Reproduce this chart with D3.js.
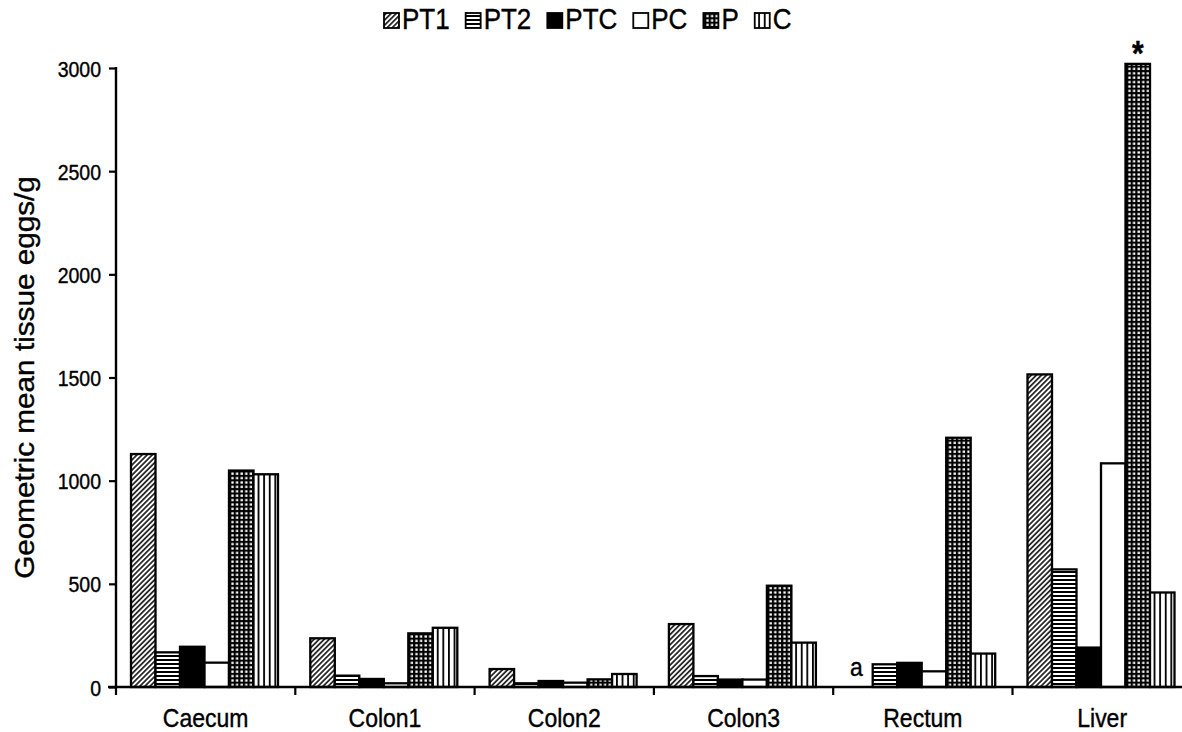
<!DOCTYPE html>
<html>
<head>
<meta charset="utf-8">
<script src="https://cdn.jsdelivr.net/npm/d3@7/dist/d3.min.js"></script>
<style>
  html, body { margin: 0; padding: 0; background: #fff; }
  svg { display: block; font-family: "Liberation Sans", Arial, sans-serif; }
  text { fill: #000; stroke: #000; stroke-width: 0.35px; }
</style>
</head>
<body>
<svg id="chart" width="1182" height="732"></svg>
<script>
// Tissue sites along the x axis
const categories = ["Caecum", "Colon1", "Colon2", "Colon3", "Rectum", "Liver"];
// Treatment groups (one bar each per site)
const seriesNames = ["PT1", "PT2", "PTC", "PC", "P", "C"];
// Geometric mean tissue eggs/g, one array per treatment group, ordered as categories
const PT1 = [1129, 236, 87, 305, 0, 1515];
const PT2 = [168, 55, 18, 53, 110, 570];
const PTC = [195, 39, 29, 36, 117, 191];
const PC  = [118, 18, 21, 36, 76, 1084];
const P   = [1049, 260, 37, 491, 1208, 3020];
const C   = [1031, 287, 63, 215, 162, 458];
const seriesValues = [PT1, PT2, PTC, PC, P, C];
// Y axis ticks
const yTicks = [0, 500, 1000, 1500, 2000, 2500, 3000];
// Annotations: "a" on Rectum/PT1, "*" on Liver/P
const notes = [
  { cat: "Rectum", series: "PT1", text: "a" },
  { cat: "Liver", series: "P", text: "*" }
];

const svg = d3.select("#chart");
const plotLeft = 116, plotTop = 68, plotBottom = 687;
const groupW = 179.3;
const stretch = 1.15; // glyphs are drawn slightly taller than wide

// Fill patterns for each treatment
const defs = svg.append("defs");
// PT1: fine diagonal hatch
const pHatch = defs.append("pattern").attr("id", "pat-PT1")
  .attr("patternUnits", "userSpaceOnUse").attr("width", 3.6).attr("height", 3.6)
  .attr("patternTransform", "rotate(45)");
pHatch.append("rect").attr("width", 3.6).attr("height", 3.6).attr("fill", "#fff");
pHatch.append("line").attr("x1", 0.9).attr("y1", 0).attr("x2", 0.9).attr("y2", 3.6)
  .attr("stroke", "#000").attr("stroke-width", 1.5);
// PT2: horizontal stripes
const pHoriz = defs.append("pattern").attr("id", "pat-PT2")
  .attr("patternUnits", "userSpaceOnUse").attr("width", 8).attr("height", 4)
  .attr("y", plotBottom);
pHoriz.append("rect").attr("width", 8).attr("height", 4).attr("fill", "#fff");
pHoriz.append("rect").attr("y", 0).attr("width", 8).attr("height", 2).attr("fill", "#000");
// P: black with a grid of small white squares
const pGrid = defs.append("pattern").attr("id", "pat-P")
  .attr("patternUnits", "userSpaceOnUse").attr("width", 4.6).attr("height", 4.4)
  .attr("y", plotBottom);
pGrid.append("rect").attr("width", 4.6).attr("height", 4.4).attr("fill", "#000");
pGrid.append("rect").attr("x", 1.3).attr("y", 1.2).attr("width", 2.4).attr("height", 2.2).attr("fill", "#fff");
// C: vertical stripes
const pVert = defs.append("pattern").attr("id", "pat-C")
  .attr("patternUnits", "userSpaceOnUse").attr("width", 5.6).attr("height", 8);
pVert.append("rect").attr("width", 5.6).attr("height", 8).attr("fill", "#fff");
pVert.append("rect").attr("x", 0).attr("width", 1.8).attr("height", 8).attr("fill", "#000");

const fills = {
  PT1: "url(#pat-PT1)",
  PT2: "url(#pat-PT2)",
  PTC: "#000",
  PC: "#fff",
  P: "url(#pat-P)",
  C: "url(#pat-C)"
};

// Scales
const x0 = d3.scaleBand().domain(categories)
  .range([plotLeft, plotLeft + groupW * categories.length]).paddingInner(0).paddingOuter(0);
const x1 = d3.scaleBand().domain(seriesNames).range([15, 162]).padding(0);
const y = d3.scaleLinear().domain([0, 3000]).range([plotBottom, plotTop]);

// Bars
const rows = [];
categories.forEach((cat, ci) => {
  seriesNames.forEach((s, si) => rows.push({ cat, series: s, value: seriesValues[si][ci] }));
});
svg.append("g").selectAll("rect").data(rows.filter(d => d.value > 0)).join("rect")
  .attr("x", d => x0(d.cat) + x1(d.series))
  .attr("y", d => y(d.value))
  .attr("width", x1.bandwidth())
  .attr("height", d => y(0) - y(d.value))
  .attr("fill", d => fills[d.series])
  .attr("stroke", "#000")
  .attr("stroke-width", 2.3);

// Y axis
const yAxis = svg.append("g").attr("transform", `translate(${plotLeft},0)`)
  .call(d3.axisLeft(y).tickValues(yTicks).tickSize(7).tickFormat(d3.format("d")));
yAxis.select(".domain").attr("stroke-width", 2.4).attr("d", `M0,${plotTop - 1}V${plotBottom}`);
yAxis.selectAll(".tick line").attr("stroke-width", 2.2);
yAxis.selectAll(".tick text").remove();
yAxis.selectAll(".tick").append("text")
  .attr("transform", `translate(-15,0) scale(1,${stretch})`)
  .attr("dy", "0.36em")
  .attr("text-anchor", "end")
  .attr("font-size", 19.5)
  .text(d => d3.format("d")(d));

// X axis (category boundaries carry the ticks)
const xAxis = svg.append("g").attr("transform", `translate(0,${plotBottom})`);
xAxis.append("line").attr("x1", plotLeft - 8).attr("x2", 1182).attr("y1", 0).attr("y2", 0)
  .attr("stroke", "#000").attr("stroke-width", 2.6);
xAxis.selectAll("line.tk").data(categories).join("line").attr("class", "tk")
  .attr("x1", d => x0(d)).attr("x2", d => x0(d))
  .attr("y1", 0).attr("y2", 8).attr("stroke", "#000").attr("stroke-width", 2.2);
xAxis.selectAll("text").data(categories).join("text")
  .attr("transform", d => `translate(${x0(d) + x0.bandwidth() / 2},40) scale(1,${stretch})`)
  .attr("text-anchor", "middle")
  .attr("font-size", 23)
  .text(d => d);

// Y axis title
svg.append("text")
  .attr("transform", `translate(34,${(plotTop + plotBottom) / 2}) rotate(-90) scale(1.1,1)`)
  .attr("text-anchor", "middle")
  .attr("font-size", 27)
  .text("Geometric mean tissue eggs/g");

// Annotations
notes.forEach(n => {
  const si = seriesNames.indexOf(n.series);
  const ci = categories.indexOf(n.cat);
  const v = seriesValues[si][ci];
  const cx = x0(n.cat) + x1(n.series) + x1.bandwidth() / 2;
  svg.append("text")
    .attr("transform", `translate(${cx - (n.text === "a" ? 4 : 0)},${y(v) - (n.text === "a" ? 11 : -1)}) scale(1,${stretch})`)
    .attr("text-anchor", "middle")
    .attr("font-size", n.text === "a" ? 23 : 30)
    .attr("font-weight", n.text === "*" ? "bold" : "normal")
    .text(n.text);
});

// Legend
const legend = svg.append("g").attr("transform", "translate(383,0)");
let lx = 0;
seriesNames.forEach(s => {
  legend.append("rect").attr("x", lx + 1).attr("y", 13).attr("width", 15).attr("height", 15)
    .attr("fill", fills[s]).attr("stroke", "#000").attr("stroke-width", 1.8);
  const t = legend.append("text")
    .attr("transform", `translate(${lx + 19},29) scale(1,${stretch})`)
    .attr("font-size", 26).text(s);
  lx += 19 + t.node().getComputedTextLength() + 15;
});
</script>
</body>
</html>
